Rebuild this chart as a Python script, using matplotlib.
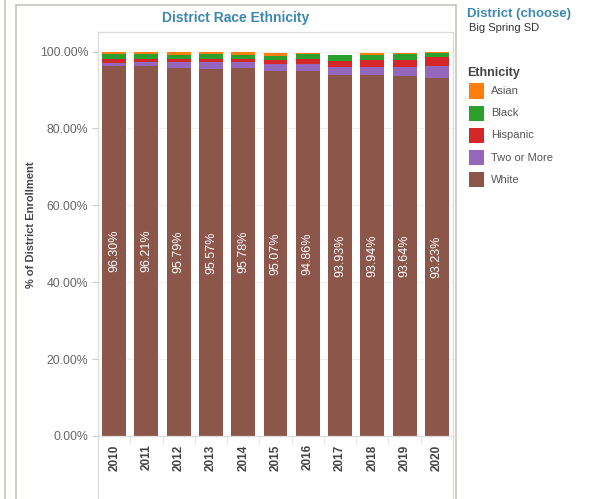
import matplotlib
matplotlib.use("Agg")
import matplotlib.pyplot as plt
from matplotlib.lines import Line2D
from matplotlib.patches import Rectangle
import numpy as np

plt.rcParams['font.family'] = ['Liberation Sans', 'DejaVu Sans']

years = ['2010', '2011', '2012', '2013', '2014', '2015', '2016', '2017', '2018', '2019', '2020']
white = [96.30, 96.21, 95.79, 95.57, 95.78, 95.07, 94.86, 93.93, 93.94, 93.64, 93.23]
two_more = [0.8, 1.0, 1.4, 1.7, 1.4, 1.7, 1.8, 2.0, 2.0, 2.3, 3.0]
hispanic = [0.9, 0.95, 0.85, 0.85, 0.85, 1.1, 1.4, 1.7, 2.0, 2.0, 2.3]
black = [1.25, 1.1, 1.2, 1.2, 1.2, 0.95, 1.2, 1.4, 1.2, 1.5, 1.1]
asian = [0.6, 0.7, 0.75, 0.7, 0.7, 0.8, 0.5, 0.0, 0.5, 0.3, 0.3]

series = [('White', white, '#8c564b'),
          ('Two or More', two_more, '#9467bd'),
          ('Hispanic', hispanic, '#d62728'),
          ('Black', black, '#2ca02c'),
          ('Asian', asian, '#ff7f0e')]
legend_order = ['Asian', 'Black', 'Hispanic', 'Two or More', 'White']

W, H = 592, 499
fig = plt.figure(figsize=(W / 100, H / 100), dpi=100)

def fx(px):
    return px / W

def fy(py):
    return 1 - py / H

ax = fig.add_axes([fx(98), fy(436), fx(453) - fx(98), fy(32) - fy(436)])

x = np.arange(len(years))
bottom = np.zeros(len(years))
for name, vals, col in series:
    ax.bar(x, vals, bottom=bottom, width=0.74, color=col, zorder=2)
    bottom += np.array(vals)

for i, v in enumerate(white):
    ax.text(i, v / 2, f'{v:.2f}%', rotation=90, ha='center', va='center',
            color='white', fontsize=9, zorder=3)

ax.set_xlim(-0.5, len(years) - 0.5)
ax.set_ylim(0, 105.1)
ax.set_yticks([0, 20, 40, 60, 80, 100])
ax.set_yticklabels([f'{t:.2f}%' for t in [0, 20, 40, 60, 80, 100]])
ax.tick_params(axis='y', length=4, color='#cccccc', labelcolor='#666666',
               labelsize=8.8, pad=3)
ax.grid(axis='y', color='#efefef', linewidth=0.8, zorder=0)

ax.set_xticks(x)
ax.set_xticklabels(years, rotation=90, fontweight='bold', color='#444444', fontsize=8.5)
ax.tick_params(axis='x', length=0, pad=6)
ax.set_xticks(np.arange(len(years) + 1) - 0.5, minor=True)
ax.tick_params(axis='x', which='minor', length=6, color='#e0e0e0')

for s in ['left', 'right', 'top', 'bottom']:
    ax.spines[s].set_color('#dcdcdc')
    ax.spines[s].set_linewidth(0.9)

ax.set_ylabel('% of District Enrollment', fontweight='bold', color='#444444', fontsize=8)
ax.yaxis.set_label_coords((36 - 98) / (453 - 98), 0.522)

# extend plot frame below the axis
for px in (98, 453):
    fig.add_artist(Line2D([fx(px), fx(px)], [fy(436), 0], color='#dcdcdc', lw=0.9))

# dashboard panel borders
border = '#c9c5bd'
fig.add_artist(Line2D([fx(5), fx(5)], [fy(0), 0], color=border, lw=1.2))
fig.add_artist(Line2D([fx(16), fx(16)], [fy(5), 0], color=border, lw=1.2))
fig.add_artist(Line2D([fx(16), fx(456)], [fy(5), fy(5)], color=border, lw=1.2))
fig.add_artist(Line2D([fx(456), fx(456)], [fy(5), 0], color=border, lw=1.2))

fig.text(fx(236), fy(18), 'District Race Ethnicity', ha='center', va='center',
         fontsize=10, fontweight='bold', color='#3d88b0')

# right side panel
fig.text(fx(467), fy(14), 'District (choose)', ha='left', va='center',
         fontsize=9.5, fontweight='bold', color='#3d88b0')
fig.text(fx(469), fy(28), 'Big Spring SD', ha='left', va='center',
         fontsize=8, color='#333333')
fig.text(fx(467), fy(73), 'Ethnicity', ha='left', va='center',
         fontsize=9, fontweight='bold', color='#444444')

colors = {n: c for n, _, c in series}
for k, name in enumerate(legend_order):
    cy = 91 + k * 22.2
    fig.add_artist(Rectangle((fx(469), fy(cy + 7.5)), fx(15), 15 / H,
                             facecolor=colors[name], edgecolor='none'))
    fig.text(fx(491), fy(cy), name, ha='left', va='center', fontsize=8, color='#555555')

fig.savefig('out.png', dpi=100)
